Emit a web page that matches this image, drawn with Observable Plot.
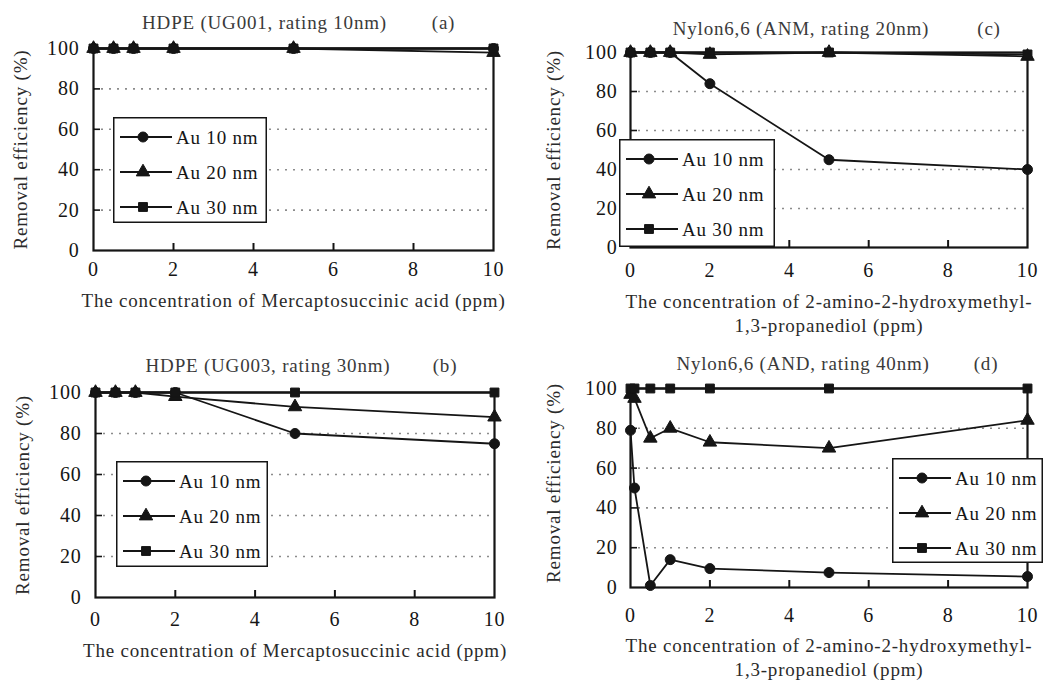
<!DOCTYPE html>
<html><head><meta charset="utf-8">
<script src="https://cdn.jsdelivr.net/npm/d3@7"></script>
<script src="https://cdn.jsdelivr.net/npm/@observablehq/plot@0.6"></script>
<style>
body{margin:0;background:#fff;}
#wrap{position:relative;width:1044px;height:685px;overflow:hidden;background:#fff;}
#wrap svg text{letter-spacing:0.8px;}
</style></head><body><div id="wrap"></div>
<script>
// ---- data ----
const seriesNames = ["Au 10 nm", "Au 20 nm", "Au 30 nm"];
const seriesSymbols = ["circle", "triangle", "square"];
const xTicks = [0, 2, 4, 6, 8, 10];
const yTicks = [0, 20, 40, 60, 80, 100];
const gridValues = [20, 40, 60, 80];

// (a) HDPE UG001
const xA = [0, 0.5, 1, 2, 5, 10];
const aAu10 = [100, 100, 100, 100, 100, 100];
const aAu20 = [100, 100, 100, 100, 100, 98];
const aAu30 = [100, 100, 100, 100, 100, 100];
// (b) HDPE UG003
const xB = [0, 0.5, 1, 2, 5, 10];
const bAu10 = [100, 100, 100, 100, 80, 75];
const bAu20 = [100, 100, 100, 98, 93, 88];
const bAu30 = [100, 100, 100, 100, 100, 100];
// (c) Nylon6,6 ANM
const xC = [0, 0.5, 1, 2, 5, 10];
const cAu10 = [100, 100, 100, 84, 45, 40];
const cAu20 = [100, 100, 100, 99, 100, 98];
const cAu30 = [100, 100, 100, 100, 100, 99];
// (d) Nylon6,6 AND
const xD = [0, 0.1, 0.5, 1, 2, 5, 10];
const dAu10 = [79, 50, 1, 14, 9.5, 7.5, 5.5];
const dAu20 = [97, 95, 75, 80, 73, 70, 84];
const dAu30 = [100, 100, 100, 100, 100, 100, 100];

const titles = ["HDPE (UG001, rating 10nm)", "HDPE (UG003, rating 30nm)", "Nylon6,6 (ANM, rating 20nm)", "Nylon6,6 (AND, rating 40nm)"];
const tags = ["(a)", "(b)", "(c)", "(d)"];
const xLabelMSA = "The concentration of Mercaptosuccinic acid (ppm)";
const xLabelTris = "The concentration of 2-amino-2-hydroxymethyl-\n1,3-propanediol (ppm)";
const yLabel = "Removal efficiency (%)";

const FONT = "'Liberation Serif','DejaVu Serif','Times New Roman',serif";
const INK = "#151515";

const panels = [
  {xs: xA, ys: [aAu10, aAu20, aAu30], title: titles[0], tag: tags[0], xlabel: xLabelMSA,
   left: 0, top: 0, width: 520, height: 340, ml: 93, mr: 27, mt: 48, mb: 90, xtdy: 19, ytdx: -14,
   tdx: -29, tdy: -26, tagdx: 150, xldy: 40, yldx: -73, yldy: 0,
   legend: {left: 113, top: 117, w: 154, h: 106}},
  {xs: xB, ys: [bAu10, bAu20, bAu30], title: titles[1], tag: tags[1], xlabel: xLabelMSA,
   left: 0, top: 340, width: 520, height: 345, ml: 95, mr: 26, mt: 52, mb: 88, xtdy: 22, ytdx: -14,
   tdx: -27, tdy: -27, tagdx: 150, xldy: 43, yldx: -73, yldy: 0,
   legend: {left: 116, top: 461, w: 152, h: 106}},
  {xs: xC, ys: [cAu10, cAu20, cAu30], title: titles[2], tag: tags[2], xlabel: xLabelTris,
   left: 520, top: 0, width: 524, height: 340, ml: 110, mr: 17, mt: 52, mb: 93, xtdy: 23, ytdx: -13,
   tdx: -28, tdy: -24, tagdx: 160, xldy: 44, yldx: -77, yldy: 0,
   legend: {left: 619, top: 139, w: 156, h: 108}},
  {xs: xD, ys: [dAu10, dAu20, dAu30], title: titles[3], tag: tags[3], xlabel: xLabelTris,
   left: 520, top: 340, width: 524, height: 345, ml: 110, mr: 17, mt: 48, mb: 98, xtdy: 28, ytdx: -13,
   tdx: -26, tdy: -25, tagdx: 157, xldy: 48, yldx: -77, yldy: -5,
   legend: {left: 892, top: 458, w: 151, h: 105}}
];

const wrap = document.getElementById("wrap");

function makePanel(p) {
  const rows = [];
  p.ys.forEach((arr, si) => arr.forEach((v, i) => rows.push({x: p.xs[i], y: v, s: seriesNames[si]})));
  const fw = p.width - p.ml - p.mr, fh = p.height - p.mt - p.mb;
  const svg = Plot.plot({
    width: p.width, height: p.height,
    marginLeft: p.ml, marginRight: p.mr, marginTop: p.mt, marginBottom: p.mb,
    style: {fontFamily: FONT, fontSize: "20px", color: INK, background: "transparent", overflow: "visible"},
    x: {domain: [0, 10], axis: null},
    y: {domain: [0, 100], axis: null},
    symbol: {domain: seriesNames, range: seriesSymbols},
    marks: [
      Plot.ruleY(gridValues, {stroke: "#8c8c8c", strokeWidth: 1.6, strokeDasharray: "2,6"}),
      Plot.ruleX(xTicks.slice(1, -1), {insetTop: fh - 7, stroke: INK, strokeWidth: 2}),
      Plot.ruleY(gridValues, {insetRight: fw - 7, stroke: INK, strokeWidth: 1.6}),
      Plot.frame({stroke: INK, strokeWidth: 2.2}),
      Plot.text(xTicks, {x: d => d, text: d => String(d), frameAnchor: "bottom", dy: p.xtdy, lineAnchor: "middle", fontSize: 20, fill: INK}),
      Plot.text(yTicks, {y: d => d, text: d => String(d), frameAnchor: "left", textAnchor: "end", dx: p.ytdx, lineAnchor: "middle", fontSize: 20, fill: INK}),
      Plot.line(rows, {x: "x", y: "y", z: "s", stroke: INK, strokeWidth: 1.8}),
      Plot.dot(rows, {x: "x", y: "y", symbol: "s", fill: INK, stroke: INK, strokeWidth: 1, r: 5}),
      Plot.text([p.title], {text: d => d, frameAnchor: "top", dx: p.tdx, dy: p.tdy, lineAnchor: "middle", fontSize: 19, fill: "#3a3a3a"}),
      Plot.text([p.tag], {text: d => d, frameAnchor: "top", dx: p.tagdx, dy: p.tdy, lineAnchor: "middle", fontSize: 19, fill: "#3a3a3a"}),
      Plot.text([p.xlabel], {text: d => d, frameAnchor: "bottom", dy: p.xldy, lineAnchor: "top", lineHeight: 1.25, fontSize: 19, fill: "#2a2a2a"}),
      Plot.text([yLabel], {text: d => d, frameAnchor: "left", textAnchor: "middle", rotate: -90, dx: p.yldx, dy: p.yldy, fontSize: 19, fill: "#2a2a2a"})
    ]
  });
  svg.style.position = "absolute";
  svg.style.left = p.left + "px";
  svg.style.top = p.top + "px";
  wrap.appendChild(svg);
}

function makeLegend(l) {
  const svg = d3.select(wrap).append("svg")
    .attr("width", l.w).attr("height", l.h)
    .style("position", "absolute").style("left", l.left + "px").style("top", l.top + "px")
    .style("font-family", FONT);
  svg.append("rect").attr("x", 0.75).attr("y", 0.75).attr("width", l.w - 1.5).attr("height", l.h - 1.5)
    .attr("fill", "#fff").attr("stroke", INK).attr("stroke-width", 1.5);
  const types = {circle: d3.symbolCircle, triangle: d3.symbolTriangle, square: d3.symbolSquare};
  seriesNames.forEach((name, i) => {
    const y = 20 + i * 35;
    const g = svg.append("g").attr("transform", `translate(0,${y})`);
    g.append("line").attr("x1", 7).attr("x2", 59).attr("y1", 0).attr("y2", 0).attr("stroke", INK).attr("stroke-width", 1.8);
    g.append("path").attr("transform", "translate(30,0)")
      .attr("d", d3.symbol(types[seriesSymbols[i]], Math.PI * 25)())
      .attr("fill", INK).attr("stroke", INK);
    g.append("text").attr("x", 63).attr("y", 0).attr("dy", "0.35em")
      .attr("font-size", 19).attr("fill", INK).style("letter-spacing", "0.8px").text(name);
  });
}

panels.forEach(p => makePanel(p));
panels.forEach(p => makeLegend(p.legend));
</script>
</body></html>
